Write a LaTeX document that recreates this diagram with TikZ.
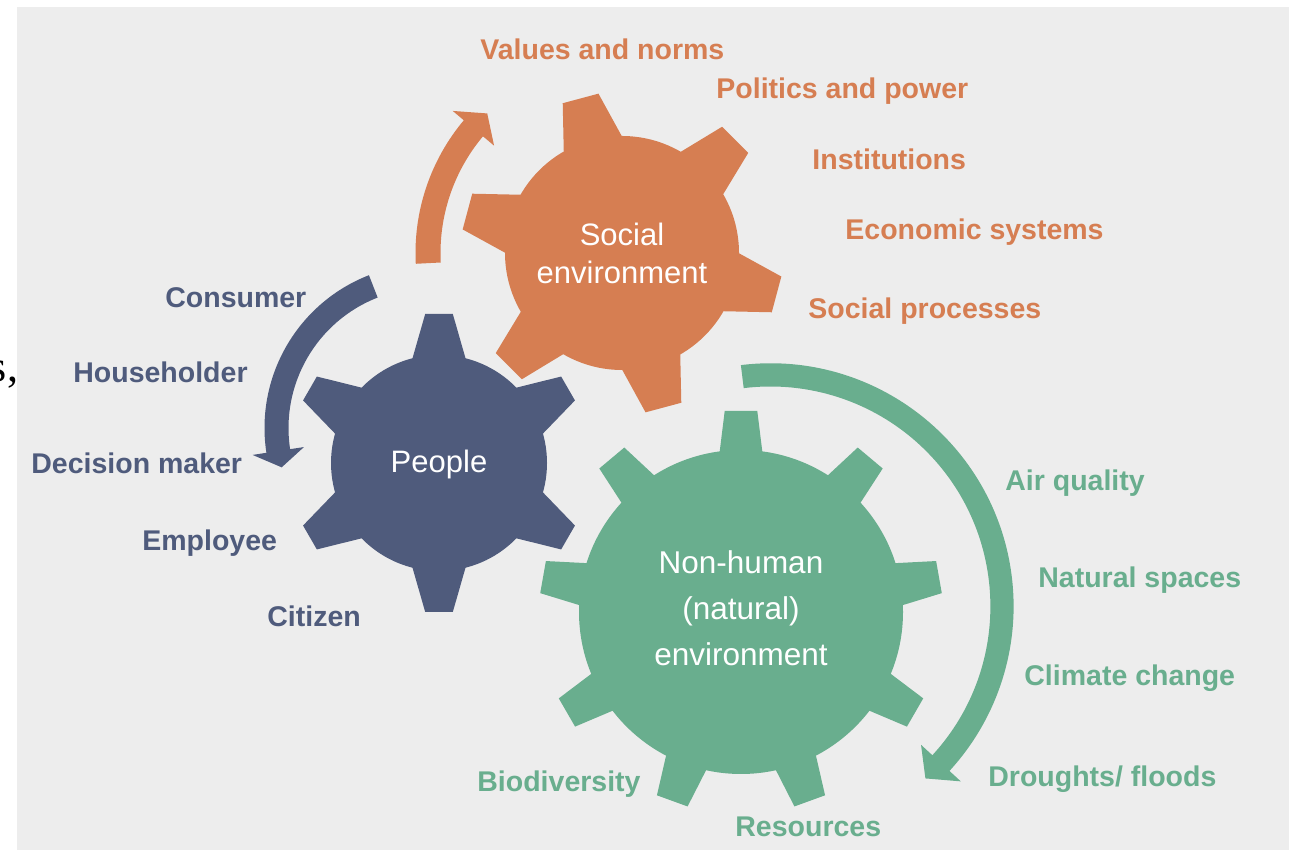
\documentclass[tikz,border=0pt]{standalone}
\usepackage{fontspec}
\setmainfont{Liberation Sans}
\newfontfamily\serifface{Liberation Serif}

\definecolor{socialcol}{HTML}{D67E52}
\definecolor{peoplecol}{HTML}{4F5B7C}
\definecolor{naturecol}{HTML}{69AE8E}
\definecolor{panelcol}{HTML}{EDEDED}

% gear: #1 centre, #2 colour, #3 body radius, #4 number of teeth,
% #5 angle of first tooth, #6 root radius, #7 root half width,
% #8 tip radius, #9 tip half width
\newcommand\gearshape[9]{%
  \fill[#2] (#1) circle[radius=#3];
  \foreach \k in {1,...,#4}{%
    \fill[#2, shift={(#1)}, rotate={#5+(\k-1)*360/#4}]
      (#6,-#7) -- (#8,-#9) -- (#8,#9) -- (#6,#7) -- cycle;
  }%
}

% curved arrow: #1 centre, #2 colour, #3 radius, #4 half width,
% #5 start angle, #6 angle of head base, #7 head half width, #8 tip angle
\newcommand\curvedarrow[8]{%
  \pgfmathsetmacro\ro{#3+#4}%
  \pgfmathsetmacro\ri{#3-#4}%
  \pgfmathsetmacro\ho{#3+#7}%
  \pgfmathsetmacro\hi{#3-#7}%
  \fill[#2] ([shift={(#1)}]#5:\ro) arc[start angle=#5, end angle=#6, radius=\ro]
    -- ([shift={(#1)}]#6:\ho) -- ([shift={(#1)}]#8:#3) -- ([shift={(#1)}]#6:\hi)
    -- ([shift={(#1)}]#6:\ri) arc[start angle=#6, end angle=#5, radius=\ri] -- cycle;
}

\tikzset{
  lab/.style={anchor=base west, inner sep=0pt,
    font=\bfseries\fontsize{14.25}{17}\selectfont},
  gearlab/.style={text=white, inner sep=0pt, align=center},
}

\begin{document}
\begin{tikzpicture}[x=0.5pt, y=0.5pt]
  \useasboundingbox (0,0) rectangle (1289,850);
  \fill[panelcol] (17,0) rectangle (1289,843);

  % centres of the gears and of the arrow arcs
  \coordinate (pc) at (439,387);
  \coordinate (sc) at (622,597);
  \coordinate (nc) at (741,238);
  \coordinate (pa) at (428.5,422);
  \coordinate (na) at (770.5,243.6);

  % gears
  \gearshape{pc}{peoplecol}{108}{6}{30}{95}{29.3}{149}{13.8}
  \gearshape{sc}{socialcol}{117}{6}{165}{100}{33.2}{160}{18.5}
  \gearshape{nc}{naturecol}{162}{9}{90}{150}{22.6}{201}{16.3}

  % arrows around the gears
  \curvedarrow{sc}{socialcol}{194}{12.5}{183}{140}{27}{134}
  \curvedarrow{pa}{peoplecol}{152}{12}{111.3}{188.7}{26}{195}
  \curvedarrow{na}{naturecol}{231.5}{11.6}{97}{-42.6}{27}{-48}

  % gear captions
  \node[gearlab, font=\fontsize{15.5}{18.7}\selectfont] (social) at (622,596.5) {Social\\environment};
  \node[gearlab, font=\fontsize{15.5}{18.7}\selectfont, anchor=base] (people) at (439,377.7) {People};
  \node[gearlab, font=\fontsize{15.75}{23}\selectfont] (nature) at (741,242) {Non-human\\(natural)\\environment};

  % social environment
  \begin{scope}[text=socialcol]
    \node[lab] (values) at (480,790.7) {Values and norms};
    \node[lab] (politics) at (716,751.7) {Politics and power};
    \node[lab] (institutions) at (812,680.5) {Institutions};
    \node[lab] (economic) at (845,610) {Economic systems};
    \node[lab] (processes) at (808,531.7) {Social processes};
  \end{scope}

  % people
  \begin{scope}[text=peoplecol]
    \node[lab] (consumer) at (165,542.5) {Consumer};
    \node[lab] (householder) at (73,467.5) {Householder};
    \node[lab] (decision) at (31,376.5) {Decision maker};
    \node[lab] (employee) at (142,299.5) {Employee};
    \node[lab] (citizen) at (267,223.5) {Citizen};
  \end{scope}

  % natural environment
  \begin{scope}[text=naturecol]
    \node[lab] (air) at (1005,359.5) {Air quality};
    \node[lab] (spaces) at (1038,262.5) {Natural spaces};
    \node[lab] (climate) at (1024,164.5) {Climate change};
    \node[lab] (droughts) at (988,63.5) {Droughts/ floods};
    \node[lab] (biodiversity) at (477,58) {Biodiversity};
    \node[lab] (resources) at (735,13) {Resources};
  \end{scope}

  % text running in from the left margin
  \node[anchor=base west, inner sep=0pt, font=\serifface\fontsize{22}{26}\selectfont] (fragment) at (-10.5,468) {s,};
\end{tikzpicture}
\end{document}
